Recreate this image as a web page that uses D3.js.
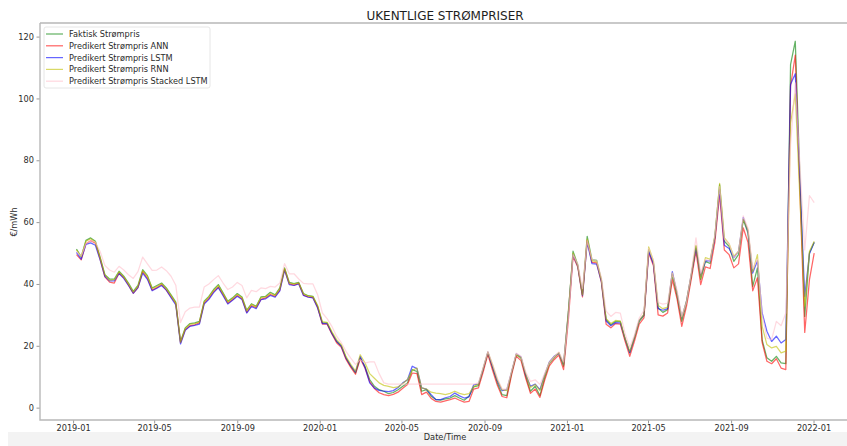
<!DOCTYPE html>
<html>
<head>
<meta charset="utf-8">
<script src="https://cdn.jsdelivr.net/npm/d3@7"></script>
<style>
  body { margin: 0; background: #fff; }
  svg { display: block; font-family: "DejaVu Sans", sans-serif; }
</style>
</head>
<body>
<svg id="chart" width="847" height="446"></svg>
<script>
// weekly dates, first and last week of the series
const firstWeek = new Date(Date.UTC(2019, 0, 6));
const lastWeek = new Date(Date.UTC(2022, 0, 2));

const seriesNames = [
  "Faktisk Strømpris",
  "Predikert Strømpris ANN",
  "Predikert Strømpris LSTM",
  "Predikert Strømpris RNN",
  "Predikert Strømpris Stacked LSTM"
];

// €/mWh
const faktisk = [
  51.3, 48.7, 54.1, 54.9, 53.8, 48.7, 43.0, 41.6, 41.6, 44.1, 42.5, 40.3, 37.6, 39.5, 44.6, 42.7,
  38.7, 39.5, 40.3, 38.7, 36.5, 34.1, 21.4, 25.8, 27.2, 27.4, 27.9, 34.4, 36.0, 38.2, 39.8, 37.1,
  34.4, 35.5, 36.9, 35.8, 31.5, 33.6, 32.8, 35.8, 36.0, 37.3, 36.5, 38.7, 45.2, 40.5, 40.1, 40.5,
  36.9, 36.2, 36.0, 32.8, 27.4, 27.4, 24.2, 21.4, 20.0, 16.1, 13.4, 11.2, 16.1, 13.4, 9.1, 6.9,
  5.8, 5.3, 4.5, 4.9, 5.8, 6.9, 8.0, 12.3, 11.7, 5.3, 5.8, 3.7, 2.6, 2.4, 2.8, 3.1,
  3.9, 3.1, 2.4, 3.7, 6.7, 7.1, 12.3, 17.7, 12.8, 8.0, 4.2, 3.9, 11.2, 17.1, 16.1, 10.1,
  5.3, 6.9, 3.9, 9.6, 14.2, 16.1, 17.7, 13.4, 30.0, 50.6, 46.2, 36.5, 55.4, 47.9, 47.6, 41.4,
  28.5, 26.8, 27.9, 27.9, 22.2, 17.7, 22.5, 27.9, 29.8, 51.1, 46.8, 32.2, 30.8, 31.7, 43.0, 36.0,
  27.9, 33.9, 42.5, 52.2, 41.4, 47.3, 46.6, 55.4, 72.1, 53.8, 52.2, 47.3, 49.5, 60.8, 56.5, 39.2,
  45.2, 21.8, 16.1, 15.0, 16.6, 14.5, 14.2, 110.9, 118.5, 74.0, 29.5, 50.1, 53.4
];
const ann = [
  49.5, 47.8, 53.0, 54.0, 53.2, 48.0, 42.3, 40.6, 40.3, 43.5, 42.0, 39.6, 37.0, 38.8, 44.0, 41.8,
  38.0, 38.8, 39.8, 38.0, 35.8, 33.6, 21.0, 25.2, 26.5, 26.8, 27.4, 33.8, 35.3, 37.5, 39.0, 36.5,
  33.8, 34.9, 36.3, 35.2, 30.8, 33.0, 32.3, 35.0, 35.5, 36.6, 36.0, 38.0, 44.7, 40.0, 39.6, 40.2,
  36.4, 35.8, 35.6, 32.4, 27.0, 27.0, 23.8, 21.0, 19.5, 15.6, 13.0, 10.8, 15.8, 12.8, 8.4, 6.2,
  4.8, 4.2, 3.9, 4.3, 5.0, 6.3, 7.5, 11.2, 11.0, 4.2, 5.0, 3.0, 2.0, 1.8, 2.2, 2.6,
  3.1, 2.4, 1.8, 2.0, 6.0, 6.4, 11.5, 17.2, 12.0, 7.2, 3.6, 3.2, 10.5, 16.6, 15.2, 9.5,
  4.6, 6.0, 3.3, 8.8, 13.5, 15.5, 17.0, 12.3, 28.0, 48.9, 45.5, 35.8, 54.0, 47.0, 46.8, 40.6,
  27.0, 25.8, 27.2, 27.0, 21.5, 16.6, 21.5, 27.0, 29.0, 50.0, 46.0, 30.0, 29.6, 30.6, 41.4, 35.2,
  26.3, 32.8, 41.5, 50.5, 39.8, 45.5, 45.0, 53.5, 68.9, 51.0, 49.5, 45.2, 46.5, 58.1, 53.5, 37.8,
  42.0, 21.0, 15.0, 14.2, 15.8, 12.8, 12.3, 104.0, 114.0, 69.0, 24.3, 41.4, 50.0
];
const lstm = [
  50.2, 48.0, 52.8, 53.3, 52.5, 47.8, 42.5, 41.0, 41.0, 43.4, 41.8, 39.5, 37.0, 38.8, 43.5, 41.5,
  37.8, 38.6, 39.5, 38.0, 35.6, 33.2, 20.6, 25.0, 26.3, 26.6, 27.0, 33.5, 35.0, 37.2, 38.8, 36.2,
  33.5, 34.7, 36.0, 35.0, 30.6, 32.7, 32.0, 34.9, 35.2, 36.3, 35.7, 37.8, 44.5, 39.8, 39.5, 40.0,
  36.3, 35.7, 35.5, 32.2, 27.2, 27.2, 24.0, 21.5, 19.8, 16.0, 13.6, 11.5, 16.6, 13.0, 8.0, 6.3,
  5.6, 5.3, 5.2, 5.5, 6.5, 8.0, 9.0, 13.4, 12.6, 6.4, 6.0, 4.2, 2.6, 2.6, 3.2, 3.6,
  4.7, 3.8, 3.1, 3.5, 7.4, 7.6, 12.6, 18.0, 13.2, 8.6, 5.5, 5.8, 11.5, 17.4, 16.4, 10.6,
  6.9, 7.6, 5.8, 10.6, 14.8, 16.6, 17.6, 14.0, 30.5, 49.5, 45.8, 36.2, 53.5, 46.6, 46.4, 40.8,
  28.0, 26.5, 27.5, 27.4, 22.4, 17.8, 22.8, 28.2, 30.0, 50.5, 46.5, 32.0, 31.5, 32.0, 44.0, 37.0,
  29.0, 34.5, 43.0, 51.5, 42.5, 47.5, 47.5, 55.0, 70.5, 52.5, 51.5, 48.5, 50.5, 61.5, 57.0, 43.5,
  47.5, 30.6, 24.7, 21.4, 23.1, 20.9, 22.0, 104.5, 108.0, 72.0, 36.0, 49.8, 53.5
];
const rnn = [
  51.0, 48.9, 53.8, 54.6, 53.5, 48.4, 43.0, 41.2, 41.4, 43.9, 42.3, 40.0, 37.4, 39.3, 44.3, 42.5,
  38.5, 39.2, 40.1, 38.5, 36.2, 33.8, 21.2, 25.6, 27.0, 27.2, 27.7, 34.2, 35.8, 37.9, 39.5, 36.9,
  34.2, 35.3, 36.7, 35.6, 31.3, 33.4, 32.6, 35.6, 35.8, 37.0, 36.3, 38.5, 45.0, 40.3, 40.0, 40.3,
  36.8, 36.1, 35.9, 33.0, 27.8, 27.6, 24.6, 22.0, 20.4, 16.5, 14.0, 11.8, 17.1, 14.5, 11.0, 9.5,
  8.0, 7.2, 6.9, 6.5, 6.7, 7.8, 9.1, 12.0, 12.8, 6.4, 6.0, 5.0, 4.7, 4.5, 4.2, 4.6,
  5.3, 4.6, 4.2, 4.5, 6.9, 7.6, 12.8, 18.0, 13.8, 9.0, 5.8, 5.5, 11.5, 17.3, 16.2, 11.0,
  6.5, 7.5, 5.5, 10.5, 14.6, 16.4, 17.8, 14.0, 31.0, 50.0, 46.0, 36.5, 54.5, 47.5, 47.2, 41.2,
  28.8, 27.2, 28.2, 28.0, 22.5, 18.2, 22.8, 28.2, 30.2, 52.0, 47.5, 33.0, 32.0, 32.5, 43.5, 37.0,
  29.0, 34.5, 43.0, 52.5, 42.0, 48.5, 48.0, 55.5, 72.5, 54.9, 53.0, 49.0, 50.5, 61.0, 57.5, 44.0,
  49.5, 26.3, 20.4, 19.3, 19.8, 17.7, 18.3, 92.0, 101.5, 67.0, 32.8, 50.5, 53.8
];
const stackedLstm = [
  50.5, 49.0, 53.0, 54.0, 53.5, 50.5, 46.0, 44.5, 43.8, 45.7, 44.5, 43.0, 41.8, 44.0, 48.7, 46.5,
  44.4, 44.5, 45.5, 44.3, 42.5, 39.6, 27.5, 31.0, 32.2, 32.5, 32.5, 39.0, 40.0, 41.4, 42.7, 40.3,
  38.2, 39.0, 40.5, 39.5, 35.5, 37.9, 37.5, 38.7, 38.5, 39.2, 39.0, 40.3, 46.6, 43.3, 43.3, 41.6,
  40.2, 40.0, 40.0, 36.5, 30.6, 28.8, 26.3, 23.1, 21.0, 18.2, 16.0, 14.0, 15.5, 14.4, 14.8, 14.8,
  11.0, 8.0, 7.6, 7.6, 7.6, 7.6, 7.6, 7.6, 7.6, 7.6, 7.6, 7.6, 7.6, 7.6, 7.6, 7.6,
  7.6, 7.6, 7.6, 7.6, 7.6, 8.0, 13.0, 18.2, 14.0, 9.5, 6.0, 6.0, 11.8, 17.6, 16.6, 11.5,
  8.5, 9.0, 7.5, 11.0, 14.6, 16.4, 18.0, 14.8, 28.0, 49.5, 46.5, 38.5, 54.0, 48.0, 47.5, 42.0,
  31.2, 29.5, 30.8, 30.6, 24.0, 19.5, 23.5, 29.0, 31.5, 51.5, 47.5, 34.0, 33.5, 33.8, 43.5, 38.0,
  29.5, 34.0, 43.5, 54.9, 43.5, 48.0, 47.5, 56.0, 71.5, 54.5, 53.0, 48.5, 50.5, 62.0, 58.0, 45.0,
  48.0, 30.0, 22.5, 22.0, 27.9, 26.5, 30.6, 85.0, 105.0, 78.0, 51.0, 68.6, 66.3
];

const seriesColors = ["#008000", "#ff0000", "#0000ff", "#bfbf00", "#ffc0cb"];
const yTicks = [0, 20, 40, 60, 80, 100, 120];

const weeks = d3.utcDay.range(firstWeek, d3.utcDay.offset(lastWeek, 1), 7);
const allSeries = [faktisk, ann, lstm, rnn, stackedLstm];

const svg = d3.select("#chart");
const plot = { left: 40, right: 850, top: 23, bottom: 420 };

// light grey strip at the bottom of the screenshot
svg.append("rect").attr("x", 8).attr("y", 432).attr("width", 839).attr("height", 14).attr("fill", "#f3f3f3");

const x = d3.scaleUtc()
  .domain([new Date(Date.UTC(2018, 10, 13)), new Date(Date.UTC(2022, 1, 24))])
  .range([plot.left, plot.right]);
const y = d3.scaleLinear().domain([-4, 124.4]).range([plot.bottom, plot.top]);

const xAxis = svg.append("g")
  .attr("transform", `translate(0,${plot.bottom})`)
  .call(d3.axisBottom(x).ticks(d3.utcMonth.every(4)).tickFormat(d3.utcFormat("%Y-%m")).tickSize(3.5).tickPadding(2));
const yAxis = svg.append("g")
  .attr("transform", `translate(${plot.left},0)`)
  .call(d3.axisLeft(y).tickValues(yTicks).tickSize(3.5).tickPadding(2.5));

[xAxis, yAxis].forEach(g => {
  g.select(".domain").remove();
  g.selectAll(".tick line").attr("stroke", "#9a9a9a");
  g.selectAll(".tick text").attr("fill", "#2b2b2b").style("font-size", "8.2px").style("font-family", "DejaVu Sans");
});

// spines
svg.append("path")
  .attr("d", `M${plot.left},${plot.top}H${plot.right}M${plot.left},${plot.top}V${plot.bottom}H${plot.right}`)
  .attr("fill", "none").attr("stroke", "#b8b8b8").attr("stroke-width", 1.4);

const clip = svg.append("clipPath").attr("id", "clip")
  .append("rect").attr("x", plot.left).attr("y", plot.top)
  .attr("width", plot.right - plot.left).attr("height", plot.bottom - plot.top);

const line = d3.line().x((d, i) => x(weeks[i])).y(d => y(d));

svg.append("g").attr("clip-path", "url(#clip)")
  .selectAll("path")
  .data(allSeries)
  .join("path")
  .attr("d", line)
  .attr("fill", "none")
  .attr("stroke", (d, i) => seriesColors[i])
  .attr("stroke-opacity", 0.6)
  .attr("stroke-width", 1.25)
  .attr("stroke-linejoin", "round");

// title and axis labels
svg.append("text").attr("x", 445).attr("y", 20).attr("text-anchor", "middle")
  .style("font-size", "12px").attr("fill", "#1e1e1e").text("UKENTLIGE STRØMPRISER");
svg.append("text").attr("x", 445).attr("y", 440).attr("text-anchor", "middle")
  .style("font-size", "8.2px").attr("fill", "#2b2b2b").text("Date/Time");
svg.append("text").attr("transform", "translate(17,222) rotate(-90)").attr("text-anchor", "middle")
  .style("font-size", "8.2px").attr("fill", "#2b2b2b").text("€/mWh");

// legend
const legend = svg.append("g").attr("transform", "translate(44,27)");
legend.append("rect").attr("width", 166).attr("height", 61).attr("rx", 2)
  .attr("fill", "#fff").attr("stroke", "#e0e0e0").attr("stroke-width", 0.8);
const rows = legend.selectAll("g.row").data(seriesNames).join("g")
  .attr("class", "row")
  .attr("transform", (d, i) => `translate(0,${7 + i * 11.8})`);
rows.append("line").attr("x1", 2).attr("x2", 19).attr("y1", 0).attr("y2", 0)
  .attr("stroke", (d, i) => seriesColors[i]).attr("stroke-opacity", 0.6).attr("stroke-width", 1.25);
rows.append("text").attr("x", 25).attr("y", 3).style("font-size", "8.2px").attr("fill", "#2b2b2b").text(d => d);
</script>
</body>
</html>
